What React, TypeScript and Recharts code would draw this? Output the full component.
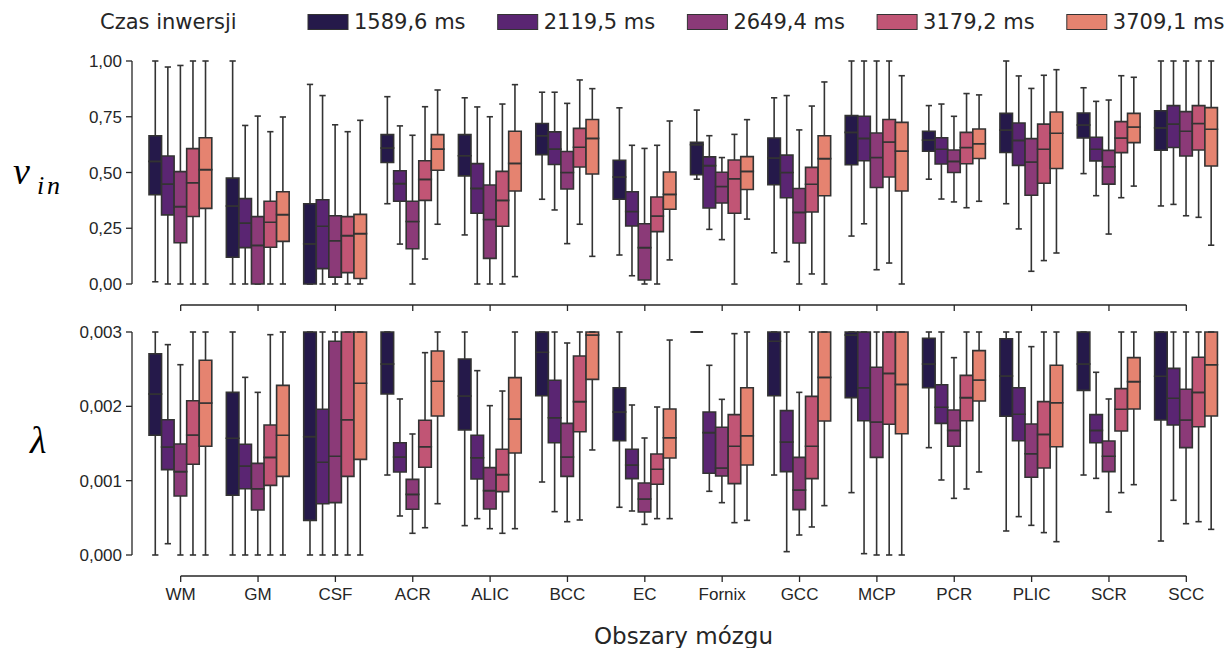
import { BarChart, Bar, XAxis, YAxis, ReferenceLine, Legend } from "recharts";

const CATEGORIES = ["WM", "GM", "CSF", "ACR", "ALIC", "BCC", "EC", "Fornix", "GCC", "MCP", "PCR", "PLIC", "SCR", "SCC"];
const SERIES_LABELS = ["1589,6 ms", "2119,5 ms", "2649,4 ms", "3179,2 ms", "3709,1 ms"];
const SERIES_COLORS = ["#25194a", "#5a2572", "#8b3a78", "#c15575", "#e58370"];

// v_in boxes per category: [min, q1, median, q3, max]
const VIN_1589 = [
  [0.01, 0.4, 0.55, 0.665, 1.0], [0.0, 0.12, 0.35, 0.475, 1.0], [0.0, 0.0, 0.18, 0.36, 0.895],
  [0.36, 0.545, 0.61, 0.67, 0.84], [0.22, 0.485, 0.575, 0.67, 0.835], [0.38, 0.58, 0.665, 0.72, 0.86],
  [0.13, 0.38, 0.48, 0.555, 0.79], [0.47, 0.49, 0.625, 0.635, 0.78], [0.14, 0.445, 0.565, 0.655, 0.835],
  [0.215, 0.535, 0.68, 0.755, 1.0], [0.47, 0.595, 0.645, 0.685, 0.8], [0.36, 0.59, 0.69, 0.765, 1.0],
  [0.495, 0.655, 0.713, 0.767, 0.88], [0.35, 0.6, 0.7, 0.777, 1.0],
];
const VIN_2119 = [
  [0.0, 0.31, 0.448, 0.574, 0.973], [0.0, 0.163, 0.273, 0.383, 0.711], [0.0, 0.069, 0.259, 0.378, 0.845],
  [0.179, 0.371, 0.45, 0.508, 0.709], [0.0, 0.317, 0.429, 0.54, 0.794], [0.332, 0.536, 0.605, 0.682, 0.86],
  [0.037, 0.26, 0.325, 0.414, 0.622], [0.245, 0.341, 0.531, 0.57, 0.665], [0.1, 0.387, 0.5, 0.578, 0.845],
  [0.27, 0.553, 0.653, 0.752, 1.0], [0.381, 0.538, 0.604, 0.656, 0.807], [0.247, 0.532, 0.644, 0.722, 0.933],
  [0.396, 0.552, 0.604, 0.658, 0.819], [0.357, 0.612, 0.717, 0.8, 1.0],
];
const VIN_2649 = [
  [0.0, 0.185, 0.347, 0.504, 0.98], [0.0, 0.0, 0.173, 0.302, 0.753], [0.0, 0.031, 0.194, 0.306, 0.714],
  [0.0, 0.158, 0.28, 0.371, 0.667], [0.0, 0.115, 0.289, 0.444, 0.75], [0.181, 0.426, 0.5, 0.594, 0.81],
  [0.0, 0.018, 0.163, 0.27, 0.608], [0.199, 0.363, 0.437, 0.501, 0.567], [0.0, 0.184, 0.321, 0.428, 0.691],
  [0.064, 0.433, 0.567, 0.677, 1.0], [0.368, 0.5, 0.55, 0.601, 0.752], [0.057, 0.398, 0.547, 0.652, 0.877],
  [0.224, 0.448, 0.526, 0.599, 0.825], [0.306, 0.574, 0.685, 0.773, 1.0],
];
const VIN_3179 = [
  [0.0, 0.303, 0.454, 0.607, 1.0], [0.0, 0.165, 0.277, 0.371, 0.683], [0.0, 0.051, 0.217, 0.302, 0.683],
  [0.112, 0.375, 0.469, 0.553, 0.795], [0.0, 0.259, 0.375, 0.505, 0.807], [0.268, 0.525, 0.613, 0.698, 0.915],
  [0.0, 0.235, 0.305, 0.39, 0.622], [0.0, 0.317, 0.472, 0.556, 0.671], [0.045, 0.323, 0.447, 0.523, 0.798],
  [0.094, 0.48, 0.637, 0.738, 1.0], [0.342, 0.539, 0.612, 0.68, 0.854], [0.105, 0.452, 0.604, 0.717, 0.936],
  [0.387, 0.589, 0.655, 0.728, 0.934], [0.299, 0.601, 0.72, 0.8, 1.0],
];
const VIN_3709 = [
  [0.0, 0.339, 0.513, 0.656, 1.0], [0.0, 0.191, 0.311, 0.414, 0.749], [0.0, 0.025, 0.226, 0.312, 0.734],
  [0.268, 0.51, 0.605, 0.67, 0.87], [0.033, 0.417, 0.541, 0.685, 0.894], [0.124, 0.493, 0.653, 0.738, 0.876],
  [0.108, 0.335, 0.402, 0.502, 0.731], [0.291, 0.424, 0.505, 0.571, 0.737], [0.0, 0.396, 0.562, 0.665, 0.906],
  [0.0, 0.417, 0.596, 0.725, 0.934], [0.371, 0.563, 0.629, 0.695, 0.848], [0.139, 0.518, 0.676, 0.771, 0.961],
  [0.439, 0.634, 0.704, 0.765, 0.927], [0.174, 0.529, 0.694, 0.791, 1.0],
];

// lambda boxes in units of 0.001: [min, q1, median, q3, max]
const LAMBDA_1589 = [
  [0, 1.61, 2.166, 2.708, 3.0], [0, 0.803, 1.57, 2.188, 3.0], [0, 0.466, 1.592, 3.0, 3.0],
  [1.076, 2.166, 2.57, 3.0, 3.0], [0.395, 1.682, 2.139, 2.637, 3.0], [0.982, 2.143, 2.727, 3.0, 3.0],
  [0.642, 1.538, 1.924, 2.251, 3.0], [3.0, 3.0, 3.0, 3.0, 3.0], [1.076, 2.143, 2.875, 3.0, 3.0],
  [0.839, 2.117, 2.96, 3.0, 3.0], [1.444, 2.251, 2.57, 2.915, 3.0], [0.323, 1.866, 2.408, 2.91, 3.0],
  [1.076, 2.215, 2.57, 3.0, 3.0], [0.188, 1.816, 2.404, 3.0, 3.0],
];
const LAMBDA_2119 = [
  [0.152, 1.148, 1.453, 1.82, 2.83], [0, 0.892, 1.197, 1.489, 2.39], [0, 0.69, 1.247, 1.96, 3.0],
  [0.525, 1.117, 1.318, 1.511, 2.099], [0.489, 1.022, 1.309, 1.61, 2.48], [0.583, 1.511, 1.847, 2.35, 3.0],
  [0.592, 1.027, 1.211, 1.422, 2.018], [0.857, 1.099, 1.646, 1.924, 2.552], [0.045, 1.121, 1.52, 1.942, 3.0],
  [0.018, 1.807, 2.251, 3.0, 3.0], [1.009, 1.771, 1.987, 2.291, 3.0], [0.516, 1.538, 1.893, 2.251, 3.0],
  [1.031, 1.511, 1.677, 1.888, 2.458], [0.736, 1.749, 2.108, 2.511, 3.0],
];
const LAMBDA_2649 = [
  [0, 0.794, 1.121, 1.493, 2.56], [0, 0.605, 0.892, 1.233, 2.188], [0, 0.704, 1.328, 2.875, 3.0],
  [0.292, 0.615, 0.816, 1.018, 1.628], [0.354, 0.619, 0.866, 1.175, 2.009], [0.448, 1.058, 1.318, 1.771, 2.852],
  [0.412, 0.578, 0.753, 0.969, 1.574], [0.704, 1.063, 1.17, 1.718, 2.094], [0.269, 0.61, 0.874, 1.314, 2.188],
  [0, 1.314, 1.789, 2.525, 3.0], [0.762, 1.462, 1.677, 1.951, 2.655], [0.399, 1.045, 1.363, 1.762, 2.803],
  [0.578, 1.121, 1.328, 1.534, 2.099], [0.421, 1.444, 1.816, 2.229, 3.0],
];
const LAMBDA_3179 = [
  [0, 1.22, 1.614, 2.076, 3.0], [0, 0.937, 1.314, 1.749, 2.964], [0, 1.058, 1.82, 3.0, 3.0],
  [0.367, 1.18, 1.457, 1.812, 2.722], [0.292, 0.852, 1.081, 1.422, 2.206], [0.471, 1.659, 2.063, 2.677, 3.0],
  [0.489, 0.951, 1.153, 1.359, 1.991], [0.435, 0.96, 1.462, 1.888, 2.978], [0.377, 1.027, 1.462, 2.134, 3.0],
  [0, 1.758, 2.444, 3.0, 3.0], [0.888, 1.807, 2.117, 2.417, 3.0], [0.301, 1.17, 1.623, 2.063, 3.0],
  [0.839, 1.668, 1.96, 2.238, 3.0], [0.448, 1.726, 2.188, 2.66, 3.0],
];
const LAMBDA_3709 = [
  [0, 1.462, 2.045, 2.619, 3.0], [0, 1.058, 1.61, 2.282, 3.0], [0, 1.287, 2.31, 3.0, 3.0],
  [0.69, 1.87, 2.337, 2.744, 3.0], [0.354, 1.372, 1.83, 2.386, 3.0], [1.413, 2.363, 2.96, 3.0, 3.0],
  [0.489, 1.305, 1.578, 1.964, 2.892], [0.466, 1.211, 1.605, 2.251, 3.0], [0.664, 1.803, 2.39, 3.0, 3.0],
  [0, 1.632, 2.296, 3.0, 3.0], [1.117, 2.072, 2.354, 2.749, 3.0], [0.179, 1.457, 2.049, 2.552, 3.0],
  [0.946, 1.964, 2.332, 2.655, 3.0], [0.345, 1.87, 2.56, 3.0, 3.0],
];

const VIN_TICKS = [0, 0.25, 0.5, 0.75, 1];
const LAMBDA_TICKS = [0, 1, 2, 3];

const EDGE = "#333333";
const AXIS = "#262626";
const LW = 1.6;
const PLOT_H = 223;
const AXIS_DROP = 21; // seaborn-style offset of the x spine below the data area

// each box = 5 stacked segments: invisible base, lower whisker, lower box, upper box, upper whisker
function buildRows(series: number[][][]) {
  return CATEGORIES.map((cat, i) => {
    const row: Record<string, any> = { cat };
    series.forEach((s, k) => {
      const [mn, q1, md, q3, mx] = s[i];
      row[`a${k}`] = mn;
      row[`b${k}`] = q1 - mn;
      row[`c${k}`] = md - q1;
      row[`d${k}`] = q3 - md;
      row[`e${k}`] = mx - q3;
    });
    return row;
  });
}

const vinRows = buildRows([VIN_1589, VIN_2119, VIN_2649, VIN_3179, VIN_3709]);
const lambdaRows = buildRows([LAMBDA_1589, LAMBDA_2119, LAMBDA_2649, LAMBDA_3179, LAMBDA_3709]);

function bounds(p: any) {
  const top = Math.min(p.y, p.y + p.height);
  const bottom = Math.max(p.y, p.y + p.height);
  return { top, bottom, cx: p.x + p.width / 2, w: p.width };
}

const Empty = () => <g />;

const LowerWhisker = (p: any) => {
  const { top, bottom, cx, w } = bounds(p);
  return (
    <g stroke={EDGE} strokeWidth={LW}>
      <line x1={cx} x2={cx} y1={top} y2={bottom} />
      <line x1={cx - w / 4} x2={cx + w / 4} y1={bottom} y2={bottom} />
    </g>
  );
};

const UpperWhisker = (p: any) => {
  const { top, bottom, cx, w } = bounds(p);
  return (
    <g stroke={EDGE} strokeWidth={LW}>
      <line x1={cx} x2={cx} y1={top} y2={bottom} />
      <line x1={cx - w / 4} x2={cx + w / 4} y1={top} y2={top} />
    </g>
  );
};

const boxShape = (color: string) => (p: any) => {
  const { top, bottom } = bounds(p);
  return (
    <path
      d={`M${p.x},${top}H${p.x + p.width}V${bottom}H${p.x}Z`}
      fill={color}
      stroke={EDGE}
      strokeWidth={LW}
    />
  );
};

const LegendContent = () => (
  <svg width={1227} height={44} style={{ display: "block" }}>
    <text x={100} y={29} fontSize={21} fontFamily="DejaVu Sans" fill={AXIS}>
      Czas inwersji
    </text>
    {SERIES_LABELS.map((label, i) => (
      <g key={label}>
        <rect x={308 + i * 189.7} y={14.5} width={40} height={15} fill={SERIES_COLORS[i]} stroke={EDGE} strokeWidth={1} />
        <text x={354 + i * 189.7} y={29} fontSize={21} fontFamily="DejaVu Sans" fill={AXIS}>
          {label}
        </text>
      </g>
    ))}
  </svg>
);

const xTick = (withLabel: boolean) => (props: any) => {
  const { x, y, payload } = props;
  return (
    <g>
      <line x1={x} x2={x} y1={y + AXIS_DROP} y2={y + AXIS_DROP + 6} stroke={AXIS} strokeWidth={1.3} />
      {withLabel && (
        <text x={x} y={y + 45} textAnchor="middle" fontSize={17} fill={AXIS}>
          {payload.value}
        </text>
      )}
    </g>
  );
};

function BoxSeries() {
  return null;
}

function renderBars() {
  const bars: any[] = [];
  SERIES_COLORS.forEach((color, k) => {
    const stack = `s${k}`;
    bars.push(<Bar key={`a${k}`} dataKey={`a${k}`} stackId={stack} shape={Empty} isAnimationActive={false} legendType="none" />);
    bars.push(<Bar key={`b${k}`} dataKey={`b${k}`} stackId={stack} shape={LowerWhisker} isAnimationActive={false} legendType="none" />);
    bars.push(<Bar key={`c${k}`} dataKey={`c${k}`} stackId={stack} shape={boxShape(color)} isAnimationActive={false} legendType="none" />);
    bars.push(<Bar key={`d${k}`} dataKey={`d${k}`} stackId={stack} shape={boxShape(color)} isAnimationActive={false} legendType="none" />);
    bars.push(<Bar key={`e${k}`} dataKey={`e${k}`} stackId={stack} shape={UpperWhisker} isAnimationActive={false} legendType="none" />);
  });
  return bars;
}

export default function App() {
  const vinDrop = -(AXIS_DROP / PLOT_H) * 1;
  const lambdaDrop = -(AXIS_DROP / PLOT_H) * 3;

  return (
    <div
      style={{
        position: "absolute",
        left: 0,
        top: 0,
        width: 1227,
        height: 648,
        background: "#fff",
        fontFamily: "'Liberation Sans', Arial, sans-serif",
        overflow: "hidden",
      }}
    >
      <div style={{ position: "absolute", left: 0, top: 0 }}>
        <BarChart
          width={1227}
          height={320}
          data={vinRows}
          margin={{ top: 61, right: 2, left: 0, bottom: 0 }}
          barGap={0}
          barSize={12.56}
        >
          <Legend
            content={LegendContent}
            layout="horizontal"
            verticalAlign="middle"
            align="center"
            wrapperStyle={{ top: 0, left: 0, width: 1227 }}
          />
          <XAxis
            dataKey="cat"
            height={36}
            padding={{ left: 10, right: 0 }}
            axisLine={false}
            tickLine={false}
            tickSize={0}
            tickMargin={0}
            interval={0}
            tick={xTick(false)}
          />
          <YAxis
            width={132}
            domain={[0, 1]}
            ticks={VIN_TICKS}
            interval={0}
            tickSize={6}
            tickMargin={4}
            axisLine={{ stroke: AXIS, strokeWidth: 1.3 }}
            tickLine={{ stroke: AXIS, strokeWidth: 1.3 }}
            tick={{ fontSize: 17, fill: AXIS }}
            tickFormatter={(v: number) => v.toFixed(2).replace(".", ",")}
            label={{
              content: ({ viewBox }: any) => (
                <text
                  x={viewBox.x + 13}
                  y={viewBox.y + viewBox.height / 2 + 11}
                  fontFamily="'Liberation Serif', serif"
                  fontStyle="italic"
                  fill="#000"
                >
                  <tspan fontSize={38}>v</tspan>
                  <tspan fontSize={26} x={viewBox.x + 37} dy={10}>i</tspan>
                  <tspan fontSize={26} x={viewBox.x + 47}>n</tspan>
                </text>
              ),
            }}
          />
          <ReferenceLine
            segment={[
              { x: CATEGORIES[0], y: vinDrop },
              { x: CATEGORIES[CATEGORIES.length - 1], y: vinDrop },
            ]}
            stroke={AXIS}
            strokeWidth={1.3}
            ifOverflow="visible"
          />
          {renderBars()}
        </BarChart>
      </div>

      <div style={{ position: "absolute", left: 0, top: 320 }}>
        <BarChart
          width={1227}
          height={328}
          data={lambdaRows}
          margin={{ top: 12, right: 2, left: 0, bottom: 0 }}
          barGap={0}
          barSize={12.56}
        >
          <XAxis
            dataKey="cat"
            height={93}
            padding={{ left: 10, right: 0 }}
            axisLine={false}
            tickLine={false}
            tickSize={0}
            tickMargin={0}
            interval={0}
            tick={xTick(true)}
            label={{
              content: ({ viewBox }: any) => (
                <text
                  x={viewBox.x + viewBox.width / 2 + 5}
                  y={viewBox.y + 89}
                  textAnchor="middle"
                  fontSize={23}
                  fontFamily="DejaVu Sans"
                  fill={AXIS}
                >
                  Obszary mózgu
                </text>
              ),
            }}
          />
          <YAxis
            width={132}
            domain={[0, 3]}
            ticks={LAMBDA_TICKS}
            interval={0}
            tickSize={6}
            tickMargin={4}
            axisLine={{ stroke: AXIS, strokeWidth: 1.3 }}
            tickLine={{ stroke: AXIS, strokeWidth: 1.3 }}
            tick={{ fontSize: 17, fill: AXIS }}
            tickFormatter={(v: number) => (v / 1000).toFixed(3).replace(".", ",")}
            label={{
              content: ({ viewBox }: any) => (
                <text
                  x={viewBox.x + 30}
                  y={viewBox.y + viewBox.height / 2 + 9}
                  fontSize={38}
                  fontFamily="'Liberation Serif', serif"
                  fontStyle="italic"
                  fill="#000"
                >
                  λ
                </text>
              ),
            }}
          />
          <ReferenceLine
            segment={[
              { x: CATEGORIES[0], y: lambdaDrop },
              { x: CATEGORIES[CATEGORIES.length - 1], y: lambdaDrop },
            ]}
            stroke={AXIS}
            strokeWidth={1.3}
            ifOverflow="visible"
          />
          {renderBars()}
        </BarChart>
      </div>
    </div>
  );
}
